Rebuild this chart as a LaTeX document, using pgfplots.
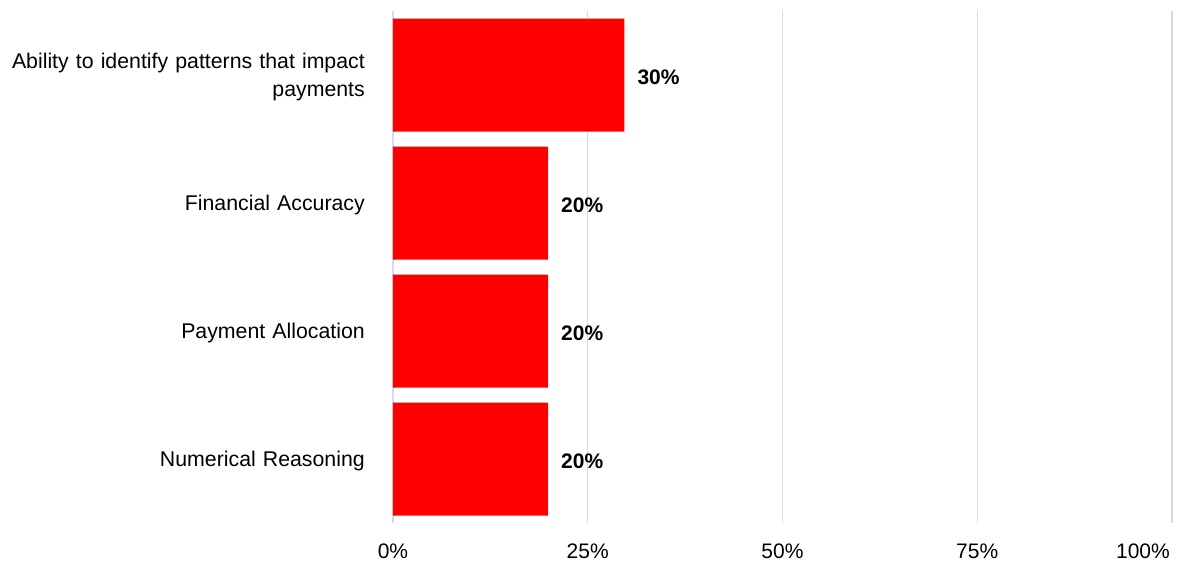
\documentclass[border=0pt]{standalone}
\usepackage{pgfplots}
\pgfplotsset{compat=1.18}
\usepackage{pgfplotstable}
\usepackage{fontspec}
\setmainfont{Liberation Sans}
\definecolor{barred}{HTML}{FF0000}
\definecolor{gridgray}{HTML}{D9D9D9}
\definecolor{zeroline}{HTML}{D6DBEE}
\pgfplotstableread{
x y lab
29.7 0 30\%
19.9 1 20\%
19.9 2 20\%
19.9 3 20\%
}\datatable
\begin{document}
\fontsize{21}{25}\selectfont
\begin{tikzpicture}
\useasboundingbox (0,0) rectangle (1178pt,563pt);
\begin{axis}[
  at={(393pt,40pt)}, anchor=south west,
  scale only axis, width=779pt, height=512pt,
  xbar, bar width=113pt,
  xmin=0, xmax=100,
  ymin=-0.5, ymax=3.5, y dir=reverse,
  axis line style={draw=none},
  xtick={0,25,50,75},
  xticklabels={0\%,25\%,50\%,75\%},
  extra x ticks={100},
  extra x tick labels={100\%},
  extra x tick style={xticklabel style={anchor=north east, xshift=5pt}},
  ytick={0,1,2,3},
  yticklabels={{Ability to identify patterns that impact\\payments},{Financial Accuracy},{Payment Allocation},{Numerical Reasoning}},
  yticklabel style={align=right, text width=380pt, font=\fontsize{21.3}{28}\selectfont, xshift=-21pt, yshift=-2pt},
  xticklabel style={font=\fontsize{21}{25}\selectfont, yshift=-14pt},
  major tick length=0pt,
  xmajorgrids, grid style={gridgray, line width=1.2pt},
  nodes near coords,
  point meta=explicit symbolic,
  nodes near coords style={font=\bfseries\fontsize{21}{25}\selectfont, anchor=west, xshift=6pt, yshift=-2pt, text=black},
  clip=false,
]
\draw[zeroline, line width=1.5pt] (axis cs:0,-0.5) -- (axis cs:0,3.5);
\addplot[fill=barred, draw=none] table[x=x, y=y, meta=lab] {\datatable};
\end{axis}
\end{tikzpicture}
\end{document}
